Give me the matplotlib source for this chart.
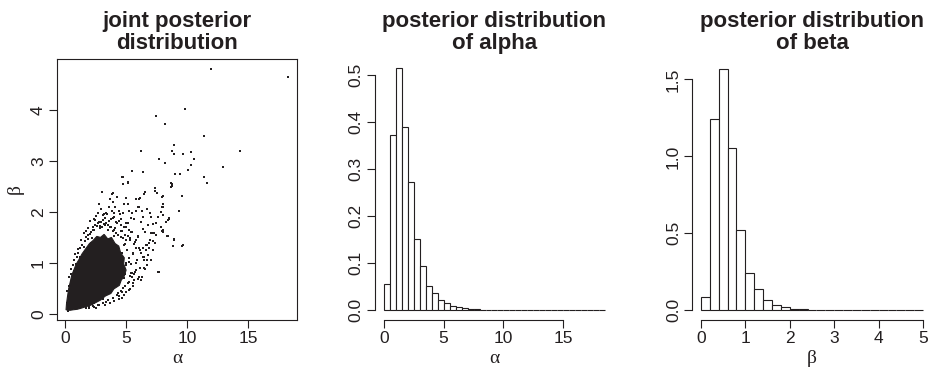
import matplotlib
matplotlib.use("Agg")
import matplotlib.pyplot as plt
import numpy as np

plt.rcParams['font.family'] = ['Liberation Sans', 'DejaVu Sans']

# posterior draws (sparse part of the cloud)
draw_alpha = [11.97, 18.25, 9.84, 7.46, 8.22, 11.42, 8.91, 6.23, 8.77, 8.91, 9.67, 10.30,
              14.32, 7.73, 10.60, 8.22, 10.30, 10.05, 12.98, 5.52, 6.42, 9.02, 9.40, 11.42,
              11.61, 8.77, 8.71, 5.16, 7.40, 7.38, 7.51, 6.58, 6.45, 8.03, 9.62, 6.15, 5.82,
              4.73, 5.16, 4.78, 3.88, 3.66, 5.00, 5.82, 6.07, 4.86, 5.14, 4.10, 5.98, 6.09,
              6.75, 8.00, 3.85, 4.40, 5.22, 5.82, 6.31, 2.68, 3.36, 4.04, 4.73, 5.47, 6.99,
              7.84, 8.06, 7.05, 2.48, 2.95, 3.23, 3.77, 4.45, 5.00, 5.68, 6.23, 6.78, 7.46,
              8.28, 8.55, 2.27, 3.90, 5.27, 6.42, 7.05, 8.00, 1.86, 2.13, 4.73, 5.82, 6.64,
              8.96, 6.09, 7.32, 7.46, 8.00, 8.41, 9.64, 6.91, 6.64, 6.78, 6.50, 5.82, 5.41,
              5.68, 5.14, 4.73, 4.32, 7.68, 6.58, 6.23, 5.27, 3.36, 2.81, 2.27, 1.72,
              4.70, 5.14, 3.69, 3.91, 3.14, 2.40, 7.92, 8.06, 7.98, 8.42, 8.52, 8.25, 7.98,
              8.33, 8.96, 8.88, 9.61, 9.34, 9.56, 8.69, 8.80, 7.65, 7.24, 7.11, 6.69, 6.48,
              6.69, 5.47, 5.60, 6.48, 1.56, 2.05, 2.62, 3.05, 3.48, 4.12, 4.55, 4.95, 5.35,
              3.62, 4.28, 4.86, 5.44, 5.95, 3.25, 3.98, 4.62, 5.18, 5.72, 6.18, 2.88, 3.54,
              4.21, 4.97, 5.56, 5.02, 5.31, 4.48, 4.16, 3.82, 3.40, 2.96, 2.52, 5.78, 6.02,
              4.65, 4.38, 3.12, 2.18, 1.62, 1.21, 0.88, 0.52, 0.30, 1.05, 3.72, 4.91, 5.25,
              4.02, 3.31, 2.74, 6.35, 6.86, 7.18, 4.44, 3.96, 5.64, 4.80, 2.35, 1.94]
draw_beta = [4.80, 4.65, 4.01, 3.88, 3.73, 3.48, 3.32, 3.19, 3.19, 3.14, 3.13, 3.17,
             3.19, 3.03, 3.03, 2.95, 2.92, 2.82, 2.88, 2.80, 2.78, 2.75, 2.75, 2.68,
             2.57, 2.54, 2.48, 2.58, 2.46, 2.42, 2.37, 2.39, 2.35, 2.31, 2.32, 2.28, 2.26,
             2.69, 2.57, 2.54, 2.35, 2.25, 2.27, 2.25, 2.25, 2.16, 2.15, 2.10, 2.10, 2.09,
             2.05, 2.10, 2.02, 2.02, 2.02, 2.02, 2.02, 1.97, 1.97, 1.97, 1.97, 1.97, 1.97,
             2.00, 1.94, 1.91, 1.84, 1.81, 1.77, 1.86, 1.83, 1.78, 1.86, 1.81, 1.74, 1.78,
             1.81, 1.86, 1.65, 1.62, 1.65, 1.66, 1.58, 1.65, 1.46, 1.39, 1.48, 1.45, 1.35,
             1.45, 1.29, 1.58, 1.55, 1.61, 1.52, 1.35, 1.39, 1.25, 1.16, 1.06, 1.00, 0.80,
             0.67, 0.60, 0.50, 0.40, 0.83, 0.89, 0.67, 0.47, 0.24, 0.18, 0.15, 0.11,
             2.69, 2.59, 2.25, 2.37, 1.94, 1.65, 2.30, 2.16, 2.10, 1.84, 1.88, 1.81, 1.63,
             1.52, 1.46, 1.33, 1.33, 2.01, 2.31, 2.57, 2.51, 0.83, 1.76, 1.58, 1.35, 1.12,
             1.06, 0.80, 0.60, 0.90, 1.32, 1.56, 1.72, 1.70, 1.74, 1.69, 1.62, 1.55, 1.48,
             1.82, 1.78, 1.71, 1.60, 1.52, 1.88, 1.91, 1.86, 1.79, 1.41, 1.25, 1.68, 1.64,
             1.59, 1.44, 1.18, 0.95, 0.74, 0.62, 0.55, 0.48, 0.41, 0.33, 0.27, 0.86, 0.72,
             0.42, 0.36, 0.29, 0.20, 0.16, 1.12, 0.97, 0.78, 0.55, 0.13, 1.70, 1.38, 1.02,
             1.52, 1.75, 1.80, 1.12, 1.30, 1.42, 0.66, 0.58, 0.78, 0.70, 0.21, 0.14]

# draws hugging the edge of the dense core, as (alpha, beta)
edge_draws = [(0.35, 0.72), (0.48, 0.88), (0.62, 0.95), (0.75, 1.05), (0.95, 1.12),
              (1.10, 1.20), (1.25, 1.30), (1.42, 1.36), (1.60, 1.42), (1.75, 1.50),
              (1.90, 1.55), (2.10, 1.60), (2.25, 1.70), (2.45, 1.75), (2.70, 1.78),
              (2.90, 1.72), (3.10, 1.85), (3.35, 1.79), (1.30, 1.45), (1.85, 1.68),
              (2.55, 1.92), (2.05, 1.82), (0.82, 1.18), (1.55, 1.58), (2.95, 2.05),
              (3.60, 2.10), (3.45, 1.95), (3.75, 1.70), (4.05, 1.65), (4.30, 1.55),
              (4.60, 1.50), (4.85, 1.35), (5.05, 1.25), (5.25, 1.10), (5.40, 0.98),
              (5.55, 1.20), (5.80, 1.30), (5.30, 1.45), (4.70, 1.62), (4.20, 1.80),
              (5.00, 1.70), (5.50, 1.60), (6.00, 1.50), (6.20, 1.20), (5.90, 1.05),
              (6.40, 1.30), (6.10, 0.90), (5.70, 0.82), (5.45, 0.72), (5.20, 0.62),
              (4.95, 0.55), (4.60, 0.45), (4.25, 0.38), (3.90, 0.32), (3.50, 0.27),
              (3.10, 0.22), (2.70, 0.18), (2.35, 0.14), (2.00, 0.12), (4.80, 0.38),
              (4.40, 0.30), (3.70, 0.22), (5.60, 0.55), (5.00, 0.42), (6.30, 0.72),
              (6.70, 0.95), (7.00, 1.05), (7.20, 1.25), (6.95, 1.45), (6.55, 1.60),
              (4.50, 1.95), (3.90, 2.20), (4.25, 2.30), (3.00, 2.40), (2.75, 2.15),
              (5.40, 1.88), (6.40, 1.90), (7.60, 1.90), (7.40, 1.40), (7.90, 1.70),
              (5.00, 1.00), (4.70, 1.20), (4.30, 0.58), (3.80, 0.44), (2.90, 0.30),
              (1.90, 0.18), (1.20, 0.12), (0.60, 0.09), (0.25, 0.06), (0.18, 0.45),
              (0.12, 0.22), (1.05, 1.28), (1.68, 1.62), (2.38, 1.86), (3.22, 1.95),
              (3.95, 1.88), (4.55, 1.74), (5.15, 1.52), (5.62, 1.38), (5.95, 0.68),
              (5.35, 0.48), (4.65, 0.32), (4.05, 0.26), (3.30, 0.17), (2.55, 0.11),
              (0.45, 0.62), (0.70, 0.85), (1.48, 1.15), (2.20, 1.48), (4.90, 0.78)]

# outline of the solid dense core of the cloud (ragged edge)
core_alpha = [0.08, 0.12, 0.20, 0.30, 0.42, 0.55, 0.72, 0.90, 1.15, 1.40, 1.70, 2.00,
              2.30, 2.60, 2.90, 3.20, 3.50, 3.80, 4.10, 4.40, 4.55, 4.85, 4.80, 5.00,
              4.85, 4.60, 4.45, 4.00, 3.75, 3.30, 2.90, 2.50, 2.10, 1.70, 1.30, 1.00,
              0.65, 0.40]
core_beta = [0.08, 0.20, 0.34, 0.50, 0.62, 0.76, 0.86, 0.97, 1.07, 1.18, 1.28, 1.38,
             1.44, 1.52, 1.50, 1.56, 1.47, 1.50, 1.38, 1.33, 1.20, 1.10, 0.98, 0.86,
             0.74, 0.66, 0.56, 0.49, 0.40, 0.35, 0.27, 0.22, 0.17, 0.14, 0.11, 0.09,
             0.08, 0.07]

# histogram densities
alpha_width = 0.5
alpha_density = [0.055, 0.372, 0.514, 0.389, 0.273, 0.152, 0.094, 0.052, 0.037, 0.021,
                 0.015, 0.009, 0.006, 0.004, 0.003, 0.002, 0.0015, 0.001, 0.001, 0.0008,
                 0.0006, 0.0005, 0.0004, 0.0003, 0.0003, 0.0002, 0.0002, 0.0002, 0.0001,
                 0.0001, 0.0001, 0.0001, 0.0001, 0.0001, 0.0, 0.0, 0.0001]
beta_width = 0.2
beta_density = [0.087, 1.24, 1.569, 1.054, 0.519, 0.245, 0.139, 0.065, 0.037, 0.022,
                0.011, 0.006, 0.004, 0.003, 0.002, 0.003, 0.001, 0.001, 0.001, 0.0005,
                0.0005, 0.0005, 0.0003, 0.0003, 0.0003]

ink = '#231f20'
greek = dict(family=['Liberation Serif', 'DejaVu Serif'], fontsize=14, color=ink)
title_kw = dict(fontsize=16, fontweight='bold', color=ink, pad=7, linespacing=1.08)

fig = plt.figure(figsize=(9.33, 3.72), dpi=100)
ax1 = fig.add_axes([0.0611, 0.1398, 0.2572, 0.7016])
ax2 = fig.add_axes([0.4019, 0.1398, 0.2562, 0.7016])
ax3 = fig.add_axes([0.7417, 0.1398, 0.2572, 0.7016])


def style(ax):
    ax.tick_params(direction='out', length=6, width=0.8, labelsize=12.5,
                   colors=ink, pad=2)
    for lab in ax.get_yticklabels():
        lab.set_rotation(90)
        lab.set_va('center')
    for s in ax.spines.values():
        s.set_color(ink)
        s.set_linewidth(0.8)


# joint posterior
edge_alpha = [p[0] for p in edge_draws]
edge_beta = [p[1] for p in edge_draws]
ax1.fill(core_alpha, core_beta, color=ink, lw=0.8, ec=ink)
ax1.plot(draw_alpha + edge_alpha, draw_beta + edge_beta, 's', ms=1.7,
         color=ink, mew=0)
ax1.set_xlim(-0.66, 19.0)
ax1.set_ylim(-0.12, 5.0)
ax1.set_xticks([0, 5, 10, 15])
ax1.set_yticks([0, 1, 2, 3, 4])
ax1.set_xlabel('α', labelpad=3, **greek)
ax1.set_ylabel('β', labelpad=5, **greek)
ax1.set_title('joint posterior\ndistribution', **title_kw)
style(ax1)

# alpha histogram
a_left = alpha_width * np.arange(len(alpha_density))
ax2.bar(a_left, alpha_density, width=alpha_width, align='edge',
        color='white', edgecolor=ink, linewidth=0.8)
ax2.set_xlim(-0.74, 19.24)
ax2.set_ylim(-0.0205, 0.533)
ax2.set_xticks([0, 5, 10, 15])
ax2.set_yticks([0, 0.1, 0.2, 0.3, 0.4, 0.5])
ax2.set_yticklabels(['0.0', '0.1', '0.2', '0.3', '0.4', '0.5'])
ax2.set_xlabel('α', labelpad=3, **greek)
ax2.set_title('posterior distribution\nof alpha', **title_kw)
ax2.spines['top'].set_visible(False)
ax2.spines['right'].set_visible(False)
ax2.spines['left'].set_bounds(0, 0.5)
ax2.spines['bottom'].set_bounds(0, 15)
style(ax2)

# beta histogram
b_left = beta_width * np.arange(len(beta_density))
ax3.bar(b_left, beta_density, width=beta_width, align='edge',
        color='white', edgecolor=ink, linewidth=0.8)
ax3.set_xlim(-0.2, 5.2)
ax3.set_ylim(-0.063, 1.633)
ax3.set_xticks([0, 1, 2, 3, 4, 5])
ax3.set_yticks([0, 0.5, 1.0, 1.5])
ax3.set_yticklabels(['0.0', '0.5', '1.0', '1.5'])
ax3.set_xlabel('β', labelpad=3, **greek)
ax3.set_title('posterior distribution\nof beta', **title_kw)
ax3.spines['top'].set_visible(False)
ax3.spines['right'].set_visible(False)
ax3.spines['left'].set_bounds(0, 1.5)
ax3.spines['bottom'].set_bounds(0, 5)
style(ax3)

fig.savefig('out.png', dpi=100)
